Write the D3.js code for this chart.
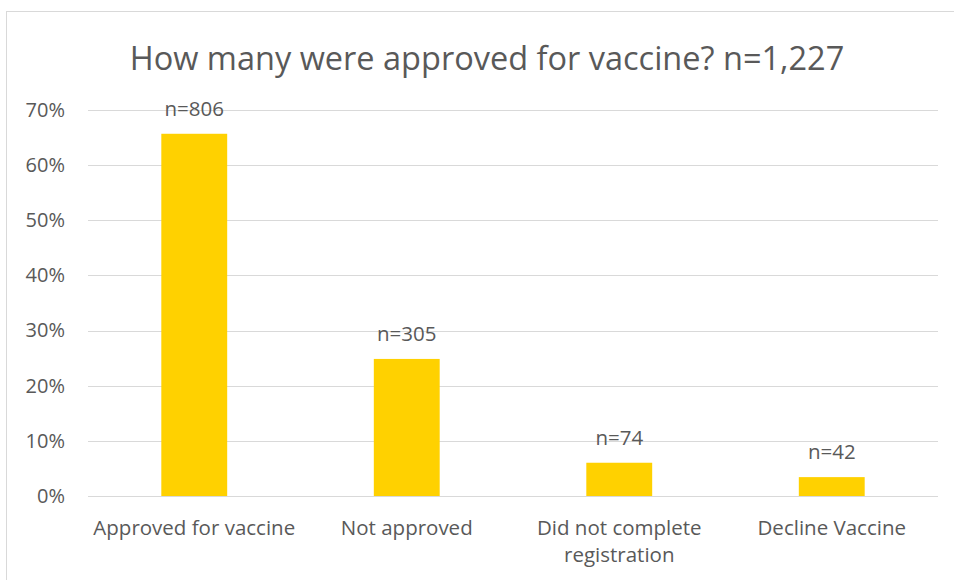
<!DOCTYPE html>
<html>
<head>
<meta charset="utf-8">
<script src="https://cdn.jsdelivr.net/npm/d3@7"></script>
<style>
  body { margin: 0; background: #fff; }
  text { font-family: "Open Sans", "Noto Sans", sans-serif; fill: #595959; }
</style>
</head>
<body>
<div id="chart"></div>
<script>
// chart values
var categories = ["Approved for vaccine", "Not approved", "Did not complete registration", "Decline Vaccine"];
var counts = [806, 305, 74, 42];
var total = 1227;
var shares = counts.map(function(c) { return c / total; });
var tickValues = [0, 0.1, 0.2, 0.3, 0.4, 0.5, 0.6, 0.7];

var svgWidth = 954;
var svgHeight = 580;

var margin = { top: 110, right: 16, bottom: 84, left: 88 };
var width = svgWidth - margin.left - margin.right;
var height = svgHeight - margin.top - margin.bottom;

var svg = d3.select("#chart")
  .append("svg")
  .attr("width", svgWidth)
  .attr("height", svgHeight);

// outer chart border
svg.append("rect")
  .attr("x", 6.5)
  .attr("y", 11.5)
  .attr("width", 1000)
  .attr("height", 1000)
  .attr("fill", "none")
  .attr("stroke", "#d9d9d9");

svg.append("text")
  .attr("x", 487)
  .attr("y", 70)
  .attr("text-anchor", "middle")
  .style("font-size", "32.5px")
  .text("How many were approved for vaccine? n=1,227");

var g = svg.append("g")
  .attr("transform", `translate(${margin.left}, ${margin.top})`);

var xScale = d3.scaleBand()
  .domain(categories)
  .range([0, width])
  .paddingInner(0.69)
  .paddingOuter(0.345);

var yScale = d3.scaleLinear()
  .domain([0, 0.7])
  .range([height, 0]);

// gridlines
g.selectAll(".grid")
  .data(tickValues)
  .enter()
  .append("line")
  .attr("x1", 0)
  .attr("x2", width)
  .attr("y1", d => Math.round(yScale(d)) + 0.5)
  .attr("y2", d => Math.round(yScale(d)) + 0.5)
  .attr("stroke", "#d9d9d9")
  .attr("stroke-width", 1);

// y axis labels
var leftAxis = d3.axisLeft(yScale)
  .tickValues(tickValues)
  .tickFormat(d3.format(".0%"))
  .tickSize(0)
  .tickPadding(23);

var yAxis = g.append("g").call(leftAxis);
yAxis.select(".domain").remove();
yAxis.selectAll("text")
  .style("font-size", "20px")
  .style("font-family", "'Open Sans', sans-serif")
  .attr("fill", "#595959");

// bars
g.selectAll(".bar")
  .data(categories)
  .enter()
  .append("rect")
  .attr("x", d => xScale(d))
  .attr("y", (d, i) => yScale(shares[i]))
  .attr("width", xScale.bandwidth())
  .attr("height", (d, i) => height - yScale(shares[i]))
  .attr("fill", "#FFD100");

// data labels
g.selectAll(".lbl")
  .data(categories)
  .enter()
  .append("text")
  .attr("x", d => xScale(d) + xScale.bandwidth() / 2)
  .attr("y", (d, i) => yScale(shares[i]) - 18)
  .attr("text-anchor", "middle")
  .style("font-size", "20.5px")
  .text((d, i) => "n=" + counts[i]);

// category labels, wrapped like the original
var catLines = {
  "Did not complete registration": ["Did not complete", "registration"]
};
var xLabels = g.selectAll(".cat")
  .data(categories)
  .enter()
  .append("text")
  .attr("x", d => xScale(d) + xScale.bandwidth() / 2)
  .attr("y", height + 39)
  .attr("text-anchor", "middle")
  .style("font-size", "20.5px");

xLabels.each(function(d) {
  var lines = catLines[d] || [d];
  var t = d3.select(this);
  lines.forEach(function(line, i) {
    t.append("tspan")
      .attr("x", t.attr("x"))
      .attr("dy", i === 0 ? 0 : 27)
      .text(line);
  });
});
</script>
</body>
</html>
